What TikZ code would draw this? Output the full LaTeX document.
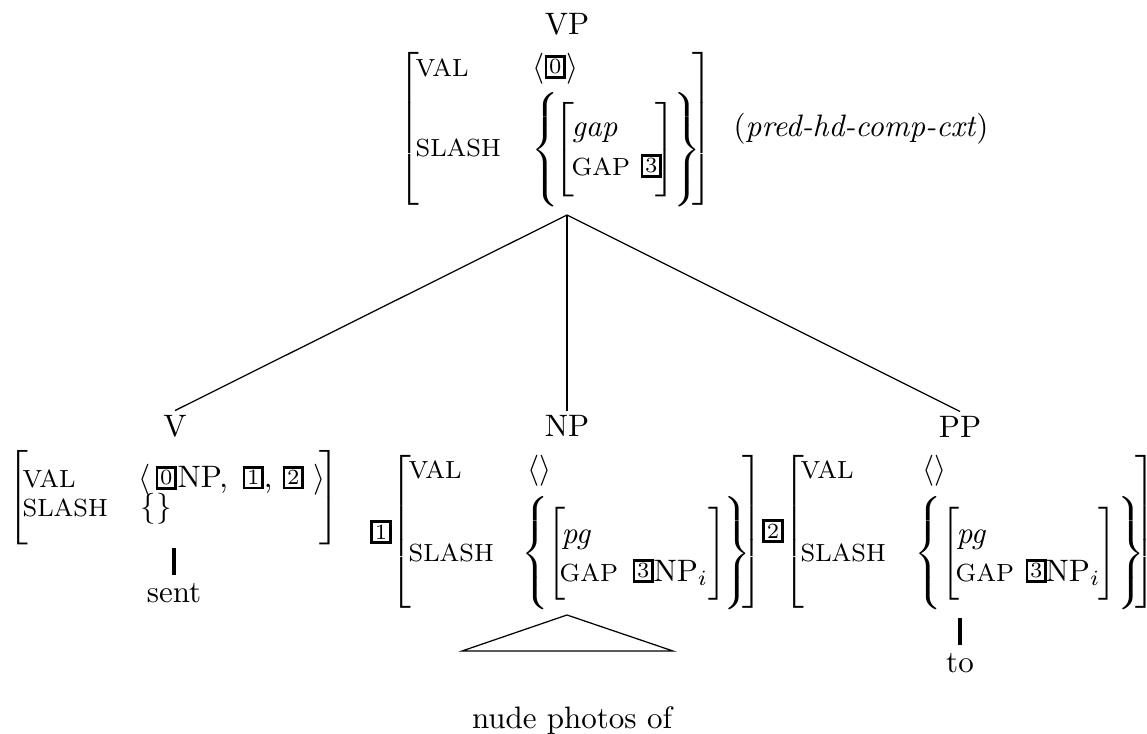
\documentclass[tikz,border=0pt]{standalone}
\usepackage{graphicx}
\newsavebox\dlbox
\newlength\dllen
\newcommand\dl[2]{%
  \sbox\dlbox{$\delimiterfactor=1000\delimitershortfall=0pt\nulldelimiterspace=0pt\left#1\vcenter{\hbox{\rule{0pt}{#2pt}}}\right.$}%
  \setlength\dllen{\ht\dlbox}\addtolength\dllen{\dp\dlbox}%
  \pgfmathsetmacro\dlfac{#2/\dllen}%
  \scalebox{1}[\dlfac]{\usebox\dlbox}}
\newcommand\tg[1]{{\setlength\fboxsep{0.6pt}\setlength\fboxrule{0.85pt}\raisebox{1pt}{\fbox{\scriptsize #1}}}}
\newcommand\fs[1]{{\fontsize{8}{9.6}\selectfont #1}}
\tikzset{
  txt/.style={inner sep=0pt, anchor=base west},
  lbl/.style={inner sep=1.5pt, anchor=base},
  dlm/.style={inner sep=0pt, anchor=center},
  tree/.style={line width=0.4pt},
  stemline/.style={line width=1pt},
}
\begin{document}
\begin{tikzpicture}[x=0.32258pt, y=-0.32258pt]
\useasboundingbox (0,0) rectangle (1147,734);
\clip (0,0) rectangle (1147,734);
% ---------------- VP ----------------
\node[lbl] (VP) at (567,35) {VP};
\node[dlm] (vpL) at (409,128.5) {\dl{[}{49.35}};
\node[dlm] (vpR) at (703,128.5) {\dl{]}{49.35}};
\node[txt] (vpval) at (415,77) {\fs{VAL}};
\node[txt] (vpvalv) at (532,77) {$\langle$\tg{0}$\rangle$};
\node[txt] (vpsl) at (415,157) {\fs{SLASH}};
\node[dlm] (vpbL) at (545,150) {\dl{\{}{36.8}};
\node[dlm] (vpiL) at (564,149.5) {\dl{[}{30.6}};
\node[txt] (vpgap) at (571,137) {\textit{gap}};
\node[txt] (vpGAP) at (571,176) {\fs{GAP}};
\node[txt] (vp3) at (640,176) {\tg{3}};
\node[dlm] (vpiR) at (666,149.5) {\dl{]}{30.6}};
\node[dlm] (vpbR) at (687,150) {\dl{\}}{36.8}};
\node[txt] (cxt) at (733,137) {(\textit{pred-hd-comp-cxt})};
\coordinate (vpbot) at (567,215);
% ---------------- V ----------------
\node[lbl] (V) at (175,437) {V};
\node[dlm] (vL) at (17.5,497.5) {\dl{[}{30.6}};
\node[dlm] (vR) at (330,497.5) {\dl{]}{30.6}};
\node[txt] (vval) at (22,488) {\fs{VAL}};
\node[txt] (va1) at (138,488) {$\langle$};
\node[txt] (va2) at (155,488) {\tg{0}};
\node[txt] (va3) at (177,488) {NP,};
\node[txt] (va4) at (242,488) {\tg{1},};
\node[txt] (va5) at (282,488) {\tg{2}};
\node[txt] (va6) at (313,488) {$\rangle$};
\node[txt] (vsl) at (22,517) {\fs{SLASH}};
\node[txt] (vslv) at (140,517) {$\{\}$};
\coordinate (vb1) at (174,548);
\coordinate (vb2) at (174,575);
\node[lbl] (sent) at (174,602) {sent};
% ---------------- NP ----------------
\node[lbl] (NP) at (567,437) {NP};
\node[dlm] (t1) at (381,532) {\tg{1}};
\node[dlm] (npL) at (401,531.5) {\dl{[}{49.35}};
\node[txt] (npval) at (408,479) {\fs{VAL}};
\node[txt] (npvalv) at (527,479) {$\langle\rangle$};
\node[txt] (npsl) at (408,561) {\fs{SLASH}};
\node[dlm] (npbL) at (535,553.5) {\dl{\{}{36.5}};
\node[dlm] (npiL) at (557,553.5) {\dl{[}{30}};
\node[txt] (nppg) at (561,543) {\textit{pg}};
\node[txt] (npGAP) at (559,581) {\fs{GAP}};
\node[txt] (np3) at (632,581) {\tg{3}};
\node[txt] (npnp) at (653,581) {NP$_i$};
\node[dlm] (npiR) at (717.5,553.5) {\dl{]}{30}};
\node[dlm] (npbR) at (737,553.5) {\dl{\}}{36.5}};
\node[dlm] (npR) at (752.5,531.5) {\dl{]}{49.35}};
\coordinate (tA) at (567,615);
\coordinate (tB) at (462,651);
\coordinate (tC) at (673,651);
\node[lbl] (nude) at (572,728) {nude photos of};
% ---------------- PP ----------------
\node[lbl] (PP) at (960,438) {PP};
\node[dlm] (t2) at (773,531) {\tg{2}};
\node[dlm] (ppL) at (794,531.5) {\dl{[}{49.35}};
\node[txt] (ppval) at (800,479) {\fs{VAL}};
\node[txt] (ppvalv) at (922,479) {$\langle\rangle$};
\node[txt] (ppsl) at (800,561) {\fs{SLASH}};
\node[dlm] (ppbL) at (928.5,553.5) {\dl{\{}{36.5}};
\node[dlm] (ppiL) at (951,553.5) {\dl{[}{30}};
\node[txt] (pppg) at (956,543) {\textit{pg}};
\node[txt] (ppGAP) at (955,581) {\fs{GAP}};
\node[txt] (pp3) at (1025,581) {\tg{3}};
\node[txt] (ppnp) at (1045,581) {NP$_i$};
\node[dlm] (ppiR) at (1108,553.5) {\dl{]}{30}};
\node[dlm] (ppbR) at (1131,553.5) {\dl{\}}{36.5}};
\node[dlm] (ppR) at (1146,531.5) {\dl{]}{49.35}};
\coordinate (pb1) at (960,618);
\coordinate (pb2) at (960,645);
\node[lbl] (to) at (960,672) {to};
% ---------------- tree ----------------
\draw[tree] (vpbot) -- (V.north);
\draw[tree] (vpbot) -- (NP.north);
\draw[tree] (vpbot) -- (PP.north);
\draw[stemline] (vb1) -- (vb2);
\draw[stemline] (pb1) -- (pb2);
\draw[tree] (tA) -- (tB) -- (tC) -- cycle;
\end{tikzpicture}
\end{document}
